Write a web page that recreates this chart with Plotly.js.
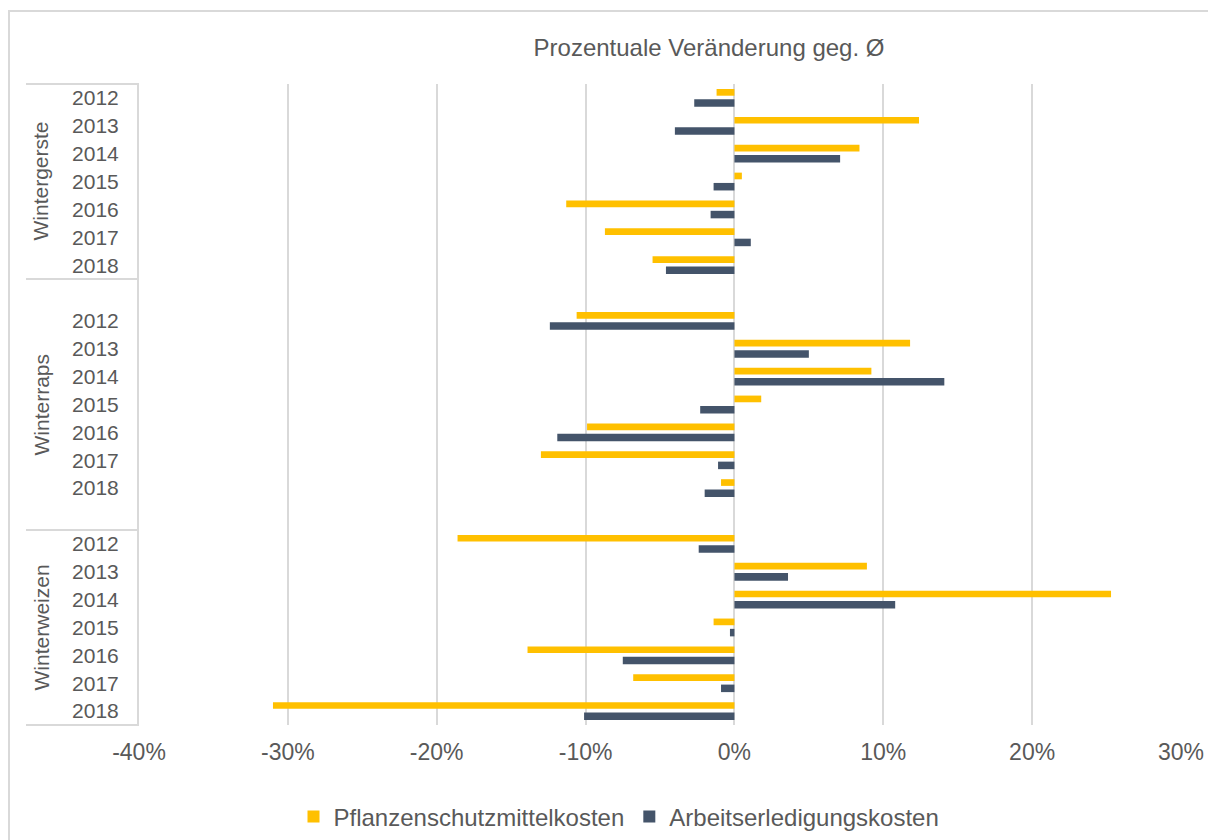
<!DOCTYPE html>
<html><head><meta charset="utf-8">
<script src="https://cdn.plot.ly/plotly-3.0.1.min.js"></script>
<style>html,body{margin:0;padding:0;background:#fff;} #chart{width:1208px;height:840px;}</style>
</head><body><div id="chart"></div>
<script>
// Data (percent change vs. average)
const crops = ['Wintergerste', 'Winterraps', 'Winterweizen'];
const years = ['2012', '2013', '2014', '2015', '2016', '2017', '2018'];
const seriesNames = ['Pflanzenschutzmittelkosten', 'Arbeitserledigungskosten'];
const pflanzenschutz_wintergerste = [-1.2, 12.4, 8.4, 0.5, -11.3, -8.7, -5.5];
const arbeit_wintergerste         = [-2.7, -4.0, 7.1, -1.4, -1.6, 1.1, -4.6];
const pflanzenschutz_winterraps   = [-10.6, 11.8, 9.2, 1.8, -9.9, -13.0, -0.9];
const arbeit_winterraps           = [-12.4, 5.0, 14.1, -2.3, -11.9, -1.1, -2.0];
const pflanzenschutz_winterweizen = [-18.6, 8.9, 25.3, -1.4, -13.9, -6.8, -31.0];
const arbeit_winterweizen         = [-2.4, 3.6, 10.8, -0.3, -7.5, -0.9, -10.1];
const xTickVals = [-40, -30, -20, -10, 0, 10, 20, 30];
const xTickText = ['-40%', '-30%', '-20%', '-10%', '0%', '10%', '20%', '30%'];

const pfl = [pflanzenschutz_wintergerste, pflanzenschutz_winterraps, pflanzenschutz_winterweizen];
const arb = [arbeit_wintergerste, arbeit_winterraps, arbeit_winterweizen];

const FONT = 'Liberation Sans, Arial, sans-serif';
const TXT = '#595959';
const GRID = '#d9d9d9';

// category rows: one empty row between crop groups
const rowsPerGroup = years.length + 1;
const nRows = crops.length * rowsPerGroup - 1;
const pos = [], tickText = [], x1 = [], x2 = [];
crops.forEach((c, g) => {
  years.forEach((yr, i) => {
    pos.push(g * rowsPerGroup + i);
    tickText.push(yr);
    x1.push(pfl[g][i]);
    x2.push(arb[g][i]);
  });
});

const traces = [
  {type: 'bar', orientation: 'h', name: seriesNames[0], x: x1, y: pos,
   marker: {color: '#FFC000'}, offset: -0.32, width: 0.24, hoverinfo: 'x+name'},
  {type: 'bar', orientation: 'h', name: seriesNames[1], x: x2, y: pos,
   marker: {color: '#44546A'}, offset: 0.05, width: 0.27, hoverinfo: 'x+name'}
];

// layout geometry
const L = 139, R = 27, T = 84, B = 115, W = 1208, H = 840;
const pw = W - L - R, ph = H - T - B;
const px2paperX = px => (px - L) / pw;
const row2paperY = r => 1 - (r + 0.5) / nRows;

const shapes = [];
// group separator lines in the label area
const sepRows = [-0.5, years.length - 0.5, 2 * rowsPerGroup - 0.5, nRows - 0.5];
sepRows.forEach(r => {
  shapes.push({type: 'line', xref: 'paper', yref: 'paper', x0: px2paperX(26), x1: 0,
    y0: row2paperY(r), y1: row2paperY(r), line: {color: GRID, width: 2}});
});
// outer chart border
shapes.push({type: 'rect', xref: 'paper', yref: 'paper', x0: px2paperX(9), x1: px2paperX(1240),
  y0: (H - B - 11) / ph, y1: -0.5, line: {color: GRID, width: 2}, fillcolor: 'rgba(0,0,0,0)'});

// crop labels (rotated)
const groupCenters = crops.map((c, g) => g * rowsPerGroup + (years.length - 1) / 2);
const annotations = crops.map((c, g) => ({
  text: c, xref: 'paper', yref: 'y', x: px2paperX(41), y: groupCenters[g],
  xanchor: 'center', yanchor: 'middle', textangle: -90, showarrow: false,
  font: {family: FONT, size: 21, color: TXT}
}));

const layout = {
  width: W, height: H,
  margin: {l: L, r: R, t: T, b: B},
  paper_bgcolor: '#fff', plot_bgcolor: '#fff',
  barmode: 'overlay',
  font: {family: FONT, color: TXT},
  title: {text: 'Prozentuale Veränderung geg. Ø', font: {family: FONT, size: 24, color: TXT},
    xref: 'container', x: 709 / W, xanchor: 'center', yref: 'container', y: 1 - 48 / H, yanchor: 'middle'},
  xaxis: {range: [-40, 30], tickvals: xTickVals, ticktext: xTickText, showgrid: true, gridcolor: GRID, gridwidth: 2,
    zeroline: true, zerolinecolor: GRID, zerolinewidth: 2, showline: false, ticks: '',
    ticklabelstandoff: 11, tickfont: {family: FONT, size: 23, color: TXT}, fixedrange: true},
  yaxis: {range: [nRows - 0.5, -0.5], tickvals: pos, ticktext: tickText, showgrid: false, zeroline: false,
    showline: true, linecolor: GRID, linewidth: 2, ticks: '', ticklabelstandoff: 14,
    tickfont: {family: FONT, size: 21, color: TXT}, fixedrange: true},
  legend: {orientation: 'h', xref: 'container', x: 619 / W, xanchor: 'center', yref: 'container', y: 1 - 817 / H,
    yanchor: 'middle', font: {family: FONT, size: 24, color: TXT}, traceorder: 'normal'},
  shapes: shapes,
  annotations: annotations,
  showlegend: true
};

Plotly.newPlot('chart', traces, layout, {displayModeBar: false, staticPlot: true});
</script>
</body></html>
